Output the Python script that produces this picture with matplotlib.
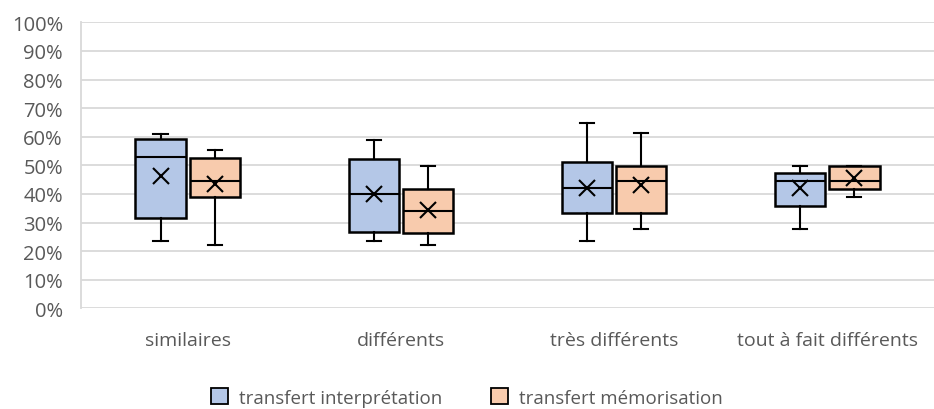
import matplotlib
matplotlib.use("Agg")
import matplotlib.pyplot as plt
from matplotlib.patches import Patch

categories = ["similaires", "différents", "très différents", "tout à fait différents"]
series_names = ["transfert interprétation", "transfert mémorisation"]

# values in %
interp_whislo = [23.5, 23.4, 23.4, 27.8]
interp_q1     = [31.7, 26.6, 33.3, 35.8]
interp_med    = [52.8, 40.0, 42.1, 44.6]
interp_q3     = [59.2, 52.1, 51.3, 47.3]
interp_whishi = [61.0, 58.8, 64.7, 49.9]
interp_mean   = [46.2, 40.0, 42.2, 42.0]

memo_whislo = [22.1, 22.1, 27.8, 38.9]
memo_q1     = [38.9, 26.3, 33.3, 41.7]
memo_med    = [44.4, 34.0, 44.5, 44.4]
memo_q3     = [52.7, 41.7, 49.9, 49.9]
memo_whishi = [55.5, 49.9, 61.2, 49.9]
memo_mean   = [43.5, 34.4, 43.1, 45.6]

colors = ["#B4C7E7", "#F8CBAD"]
grey = "#595959"
font = ["Open Sans", "DejaVu Sans"]
plt.rcParams["font.family"] = font

fig = plt.figure(figsize=(9.34, 4.10), dpi=100)
ax = fig.add_axes([0.0867, 0.2456, 0.9133, 0.6975])

def stats(lo, q1, med, q3, hi, mean):
    return [dict(whislo=a, q1=b, med=c, q3=d, whishi=e, mean=f, fliers=[])
            for a, b, c, d, e, f in zip(lo, q1, med, q3, hi, mean)]

series = [
    stats(interp_whislo, interp_q1, interp_med, interp_q3, interp_whishi, interp_mean),
    stats(memo_whislo, memo_q1, memo_med, memo_q3, memo_whishi, memo_mean),
]
offsets = [-0.127, 0.127]
for s, off, col in zip(series, offsets, colors):
    pos = [i + off for i in range(len(categories))]
    ax.bxp(s, positions=pos, widths=0.235, patch_artist=True, showmeans=True,
           showfliers=False,
           boxprops=dict(facecolor=col, edgecolor="black", linewidth=1.8),
           medianprops=dict(color="black", linewidth=1.5),
           whiskerprops=dict(color="black", linewidth=1.5),
           capprops=dict(color="black", linewidth=1.5),
           capwidths=0.066,
           meanprops=dict(marker="x", markeredgecolor="black", markersize=12,
                          markeredgewidth=1.5),
           zorder=3)

ax.set_xlim(-0.5, len(categories) - 0.5)
ax.set_ylim(0, 100)
ax.set_yticks(range(0, 101, 10))
ax.set_yticklabels([f"{v}%" for v in range(0, 101, 10)], color=grey, fontsize=14.5)
ax.set_xticks(range(len(categories)))
ax.set_xticklabels(categories, color=grey, fontsize=14)
ax.tick_params(axis="both", length=0)
ax.tick_params(axis="x", pad=16)
ax.tick_params(axis="y", pad=13)
ax.grid(axis="y", color="#D9D9D9", linewidth=1.3, zorder=0)
ax.set_axisbelow(True)
for sp in ["top", "right", "bottom"]:
    ax.spines[sp].set_visible(False)
ax.spines["left"].set_color("#D9D9D9")
ax.spines["left"].set_linewidth(1.3)

handles = [Patch(facecolor=c, edgecolor="black", linewidth=1.3) for c in colors]
fig.legend(handles, series_names, loc="center", bbox_to_anchor=(0.5, 0.028),
           ncol=2, frameon=False, fontsize=13.5, labelcolor=grey,
           handlelength=0.9, handleheight=0.9, handletextpad=0.6, columnspacing=2.6)

fig.savefig("out.png", dpi=100)
